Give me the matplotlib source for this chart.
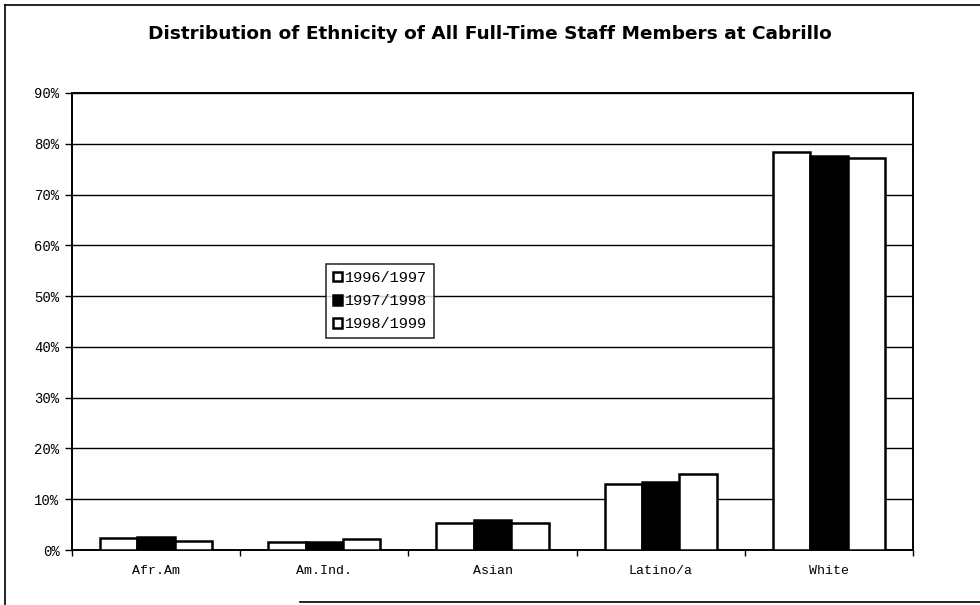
import matplotlib
matplotlib.use("Agg")
import matplotlib.pyplot as plt
import numpy as np
from matplotlib.ticker import FixedLocator

categories = ["Afr.Am", "Am.Ind.", "Asian", "Latino/a", "White"]
series_names = ["1996/1997", "1997/1998", "1998/1999"]
v9697 = [2.4, 1.6, 5.3, 13.0, 78.3]
v9798 = [2.5, 1.6, 6.0, 13.4, 77.6]
v9899 = [1.7, 2.2, 5.3, 14.9, 77.2]
yticks = [0, 10, 20, 30, 40, 50, 60, 70, 80, 90]
ytick_labels = [f"{t}%" for t in yticks]
title = "Distribution of Ethnicity of All Full-Time Staff Members at Cabrillo"

fig = plt.figure(figsize=(9.8, 6.05), dpi=100)
ax = fig.add_axes([72/980, 1-550/605, (913-72)/980, (550-93)/605])

x = np.arange(len(categories))
w = 0.222
fills = ["white", "black", "white"]
for i, (vals, fc, name) in enumerate(zip([v9697, v9798, v9899], fills, series_names)):
    ax.bar(x + (i-1)*w, vals, width=w, color=fc, edgecolor="black", linewidth=1.8,
           label=name, zorder=3)

ax.set_ylim(0, 90)
ax.set_xlim(-0.5, len(categories)-0.5)
ax.set_yticks(yticks)
ax.set_yticklabels(ytick_labels, family="Liberation Mono", fontsize=10)
ax.yaxis.grid(True, color="black", linewidth=1.0, zorder=0)
ax.set_xticks(x)
ax.set_xticklabels(categories, family="Liberation Mono", fontsize=9.5)
ax.tick_params(axis="x", which="major", length=0, pad=11)
ax.xaxis.set_minor_locator(FixedLocator(np.arange(-0.5, len(categories), 1.0)))
ax.tick_params(axis="x", which="minor", length=4, direction="out", width=1)
ax.tick_params(axis="y", length=5, direction="out", width=1, pad=4)
for s in ax.spines.values():
    s.set_linewidth(1.4)
    s.set_color("black")

leg = ax.legend(loc="upper left", bbox_to_anchor=((326-72)/841, (550-264)/457),
                prop={"family": "Liberation Mono", "size": 11},
                frameon=True, fancybox=False, edgecolor="black",
                handlelength=0.6, handleheight=0.6, handletextpad=0.2,
                borderpad=0.45, labelspacing=0.6, borderaxespad=0)
leg.get_frame().set_linewidth(1.2)

fig.text(490/980, 1-34/605, title, ha="center", va="center",
         family="DejaVu Sans", fontweight="bold", fontsize=13.3)

# outer frame lines
fig.add_artist(plt.Line2D([5/980, 5/980], [0, 1-5/605], color="black", linewidth=1.2))
fig.add_artist(plt.Line2D([5/980, 1], [1-5/605, 1-5/605], color="black", linewidth=1.2))
fig.add_artist(plt.Line2D([300/980, 1], [1-602/605, 1-602/605], color="black", linewidth=1.2))

fig.savefig("out.png", dpi=100)
